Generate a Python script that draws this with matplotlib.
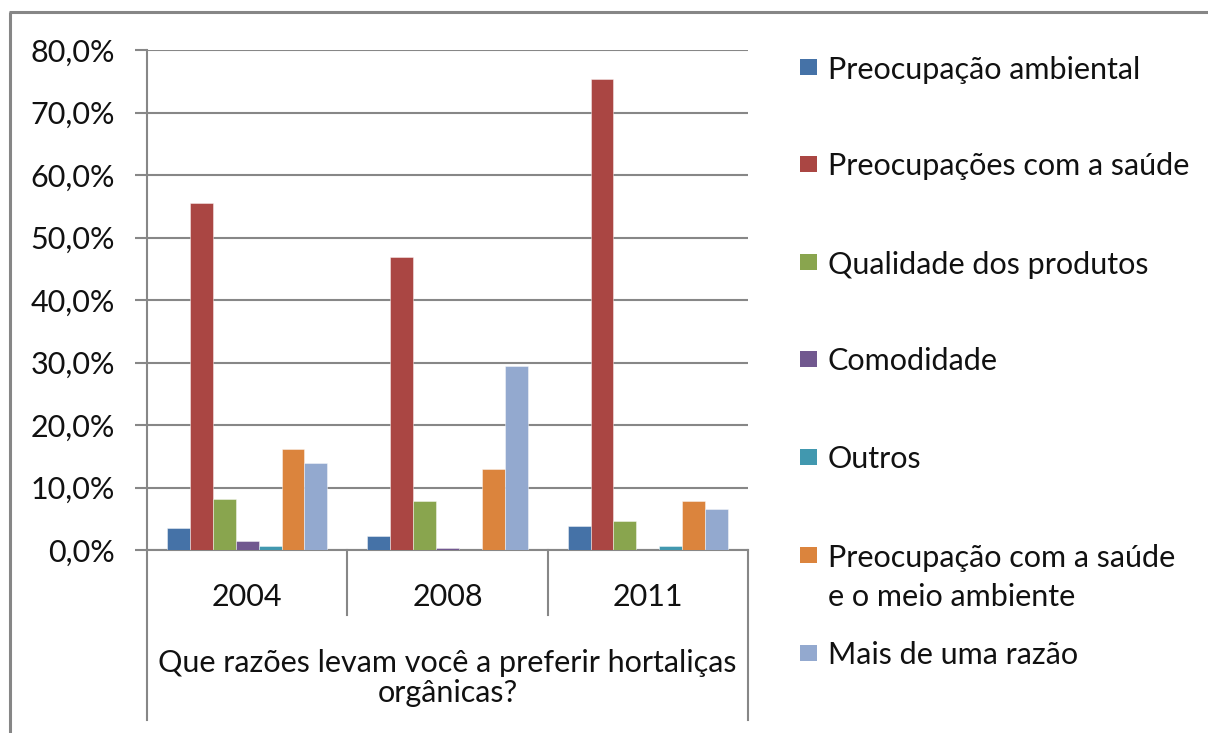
import matplotlib
matplotlib.use("Agg")
import matplotlib.pyplot as plt
from matplotlib.patches import Rectangle
from matplotlib.lines import Line2D
import numpy as np

plt.rcParams['font.family'] = ['Lato', 'DejaVu Sans']

years = ["2004", "2008", "2011"]
series = [
    "Preocupação ambiental",
    "Preocupações com a saúde",
    "Qualidade dos produtos",
    "Comodidade",
    "Outros",
    "Preocupação com a saúde\ne o meio ambiente",
    "Mais de uma razão",
]
values = {
    "Preocupação ambiental": [3.5, 2.2, 3.9],
    "Preocupações com a saúde": [55.6, 46.9, 75.3],
    "Qualidade dos produtos": [8.1, 7.8, 4.7],
    "Comodidade": [1.4, 0.4, 0.0],
    "Outros": [0.6, 0.0, 0.6],
    "Preocupação com a saúde\ne o meio ambiente": [16.2, 12.9, 7.8],
    "Mais de uma razão": [14.0, 29.4, 6.5],
}
colors = ["#4572A7", "#AA4643", "#89A54E", "#71588F", "#4198AF", "#DB843D", "#93A9CF"]
yticks = [0, 10, 20, 30, 40, 50, 60, 70, 80]
ytick_labels = ["0,0%", "10,0%", "20,0%", "30,0%", "40,0%", "50,0%", "60,0%", "70,0%", "80,0%"]
question = "Que razões levam você a preferir hortaliças\norgânicas?"

FS = 22
txt_c = "#111111"

W, H = 1208, 733
fig = plt.figure(figsize=(W / 100, H / 100), dpi=100)
fig.patch.set_facecolor("white")

# outer border (left and top edges visible)
fig.add_artist(Line2D([10 / W, 10 / W], [-0.1, (H - 12) / H], transform=fig.transFigure,
                      color="#868686", linewidth=2.2, solid_capstyle="butt"))
fig.add_artist(Line2D([9 / W, 1.1], [(H - 12) / H, (H - 12) / H], transform=fig.transFigure,
                      color="#868686", linewidth=2.2, solid_capstyle="butt"))

left, right, top, bottom = 147, 748, 50, 550
ax = fig.add_axes([left / W, (H - bottom) / H, (right - left) / W, (bottom - top) / H])

grid_c = "#878787"
x = np.arange(len(years))
n = len(series)
bw = 0.1144
for i, s in enumerate(series):
    ax.bar(x + (i - (n - 1) / 2) * bw, values[s], width=bw, color=colors[i],
           edgecolor=(1, 1, 1, 0.5), linewidth=0.6, zorder=3)

ax.set_xlim(-0.5, 2.5)
ax.set_ylim(0, 80)
ax.set_yticks(yticks)
ax.set_yticklabels(ytick_labels, fontsize=FS, color=txt_c)
ax.yaxis.grid(True, color=grid_c, linewidth=1.5, zorder=0)
ax.tick_params(axis="y", length=9, width=1.5, color=grid_c, pad=14)
ax.set_xticks([])
for sp in ["top", "right"]:
    ax.spines[sp].set_visible(False)
ax.spines["left"].set_color(grid_c)
ax.spines["left"].set_linewidth(1.5)
ax.spines["bottom"].set_color(grid_c)
ax.spines["bottom"].set_linewidth(1.5)
ax.set_axisbelow(True)

# category table lines
trans = ax.get_xaxis_transform()
y_year = -(615 - bottom) / (bottom - top)
y_end = -(720 - bottom) / (bottom - top)
for xs in [0.5, 1.5]:
    ax.add_line(Line2D([xs, xs], [0, y_year], transform=trans, color=grid_c, lw=1.5, clip_on=False))
for xs in [-0.5, 2.5]:
    ax.add_line(Line2D([xs, xs], [0, y_end], transform=trans, color=grid_c, lw=1.5, clip_on=False))

y_lab = -(597 - bottom) / (bottom - top)
for xi, yr in zip(x, years):
    ax.text(xi, y_lab, yr, transform=trans, ha="center", va="center", fontsize=FS, color=txt_c)
y_q = -(678 - bottom) / (bottom - top)
ax.text(1.0, y_q, question, transform=trans, ha="center", va="center", fontsize=FS,
        color=txt_c, linespacing=1.1)

# legend (manual layout)
leg_y = [67, 164, 262, 359, 457, 555, 653]
for i, s in enumerate(series):
    yc = leg_y[i]
    fig.add_artist(Rectangle((800 / W, (H - yc - 8) / H), 17 / W, 16 / H,
                             transform=fig.transFigure, facecolor=colors[i], edgecolor="none"))
    lines = s.split("\n")
    for j, ln in enumerate(lines):
        fig.text(828 / W, (H - yc - j * 40) / H, ln, ha="left", va="center_baseline",
                 fontsize=FS, color=txt_c)

fig.savefig("out.png", dpi=100)
